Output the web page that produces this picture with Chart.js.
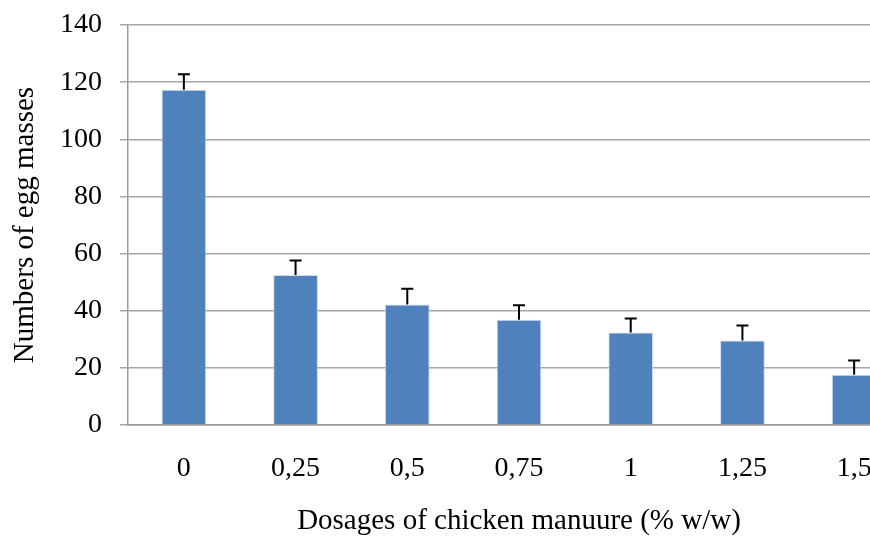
<!DOCTYPE html>
<html>
<head>
<meta charset="utf-8">
<script src="https://cdn.jsdelivr.net/npm/chart.js@4.4.1/dist/chart.umd.min.js"></script>
<style>
  html, body { margin: 0; padding: 0; background: #fff; overflow: hidden; }
  #wrap { width: 910px; height: 536px; }
</style>
</head>
<body>
<div id="wrap"><canvas id="eggChart" width="910" height="536"></canvas></div>
<script>
const dosages = ['0', '0,25', '0,5', '0,75', '1', '1,25', '1,5'];
const eggMasses = [117.3, 52.5, 42.2, 36.8, 32.4, 29.6, 17.6];
const errors = [5.5, 5.1, 5.5, 5.1, 4.9, 5.2, 5.0];
const yTicks = [0, 20, 40, 60, 80, 100, 120, 140];

// draws the upper error bars from the y scale
const errorBarPlugin = {
  id: 'errorBars',
  afterDatasetsDraw(chart) {
    const { ctx, scales: { y } } = chart;
    const meta = chart.getDatasetMeta(0);
    ctx.save();
    ctx.strokeStyle = '#000';
    ctx.lineWidth = 2;
    meta.data.forEach((bar, i) => {
      const top = y.getPixelForValue(eggMasses[i] + errors[i]);
      const base = y.getPixelForValue(eggMasses[i]);
      ctx.beginPath();
      ctx.moveTo(bar.x, base);
      ctx.lineTo(bar.x, top);
      ctx.moveTo(bar.x - 6, top);
      ctx.lineTo(bar.x + 6, top);
      ctx.stroke();
    });
    ctx.restore();
  }
};

const serif = '"Liberation Serif", "Times New Roman", serif';

new Chart(document.getElementById('eggChart'), {
  type: 'bar',
  data: {
    labels: dosages,
    datasets: [{
      data: eggMasses,
      backgroundColor: '#4F81BD',
      borderColor: 'rgba(200,215,235,0.9)',
      borderWidth: 1,
      barPercentage: 0.4,
      categoryPercentage: 1.0
    }]
  },
  options: {
    responsive: false,
    animation: false,
    layout: { padding: { top: 24, left: 0, right: 0, bottom: 0 } },
    plugins: {
      legend: { display: false },
      tooltip: { enabled: false }
    },
    scales: {
      x: {
        grid: { display: false, drawTicks: false },
        border: { color: '#9a9a9a', width: 1.5 },
        ticks: { color: '#000', font: { family: serif, size: 28 }, padding: 27 },
        title: {
          display: true,
          text: 'Dosages of chicken manuure (% w/w)',
          color: '#000',
          font: { family: serif, size: 29, lineHeight: 1 },
          padding: { top: 0, bottom: 0 }
        },
        afterFit(scale) { scale.height = 111; }
      },
      y: {
        min: 0,
        max: 140,
        afterBuildTicks(scale) { scale.ticks = yTicks.map(v => ({ value: v })); },
        grid: { color: '#a6a6a6', lineWidth: 1.5, tickLength: 8, drawTicks: true },
        border: { color: '#9a9a9a', width: 1.5 },
        ticks: { color: '#000', font: { family: serif, size: 28, lineHeight: 0.5 }, padding: 18 },
        title: {
          display: true,
          text: 'Numbers of egg masses',
          color: '#000',
          font: { family: serif, size: 29, lineHeight: 1 },
          padding: { top: 11, bottom: 0 }
        },
        afterFit(scale) { scale.width = 128; }
      }
    }
  },
  plugins: [errorBarPlugin]
});
</script>
</body>
</html>
